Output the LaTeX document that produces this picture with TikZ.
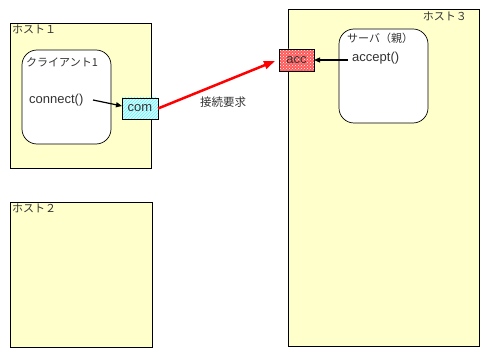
\documentclass[tikz,border=0pt]{standalone}
\usepackage{fontspec}
\setmainfont{Liberation Sans}
\newfontfamily\jp{Noto Sans CJK JP}
\usetikzlibrary{patterns,arrows.meta}
\definecolor{hostfill}{HTML}{FFFFCC}
\definecolor{txt}{HTML}{333333}
\tikzset{
  host/.style={draw=black, line width=0.9pt, fill=hostfill},
  proc/.style={draw=black, line width=0.7pt, fill=white, rounded corners=15pt},
  lbl/.style={font=\jp\fontsize{11}{13}\selectfont, text=txt, inner sep=0pt},
  code/.style={font=\fontsize{13}{15}\selectfont, text=txt, inner sep=0pt},
}
\begin{document}
\begin{tikzpicture}[x=1pt,y=-1pt]
\useasboundingbox (0,0) rectangle (489,358);
% hosts
\draw[host] (10,23) rectangle (151,168);
\draw[host] (10,202) rectangle (152,347);
\draw[host] (288,9) rectangle (479,346);
\node[lbl, anchor=north west] (h1) at (12,25) {ホスト１};
\node[lbl, anchor=north west] (h2) at (12,204) {ホスト２};
\node[lbl, anchor=north east] (h3) at (467,12) {ホスト３};
% processes
\draw[proc] (22,50) rectangle (111,144);
\draw[proc] (339,29) rectangle (428,123);
\node[lbl, anchor=north west] (cl) at (26,57) {クライアント1};
\node[lbl, anchor=north west] (sv) at (347,33) {サーバ（親）};
\node[code, anchor=west] (cn) at (29,100) {connect()};
\node[code, anchor=west] (ac) at (352,58) {accept()};
% sockets
\fill[cyan!12] (122,98) rectangle (158,119);
\fill[pattern=north east lines, pattern color=cyan!70] (122,98) rectangle (158,119);
\draw[line width=0.6pt] (122,98) rectangle (158,119);
\node[code] (com) at (140,108.5) {com};
\coordinate (comR) at (158,108.5);
\coordinate (comL) at (122,106);
\fill[red!65] (279,49) rectangle (314,71);
\fill[pattern=crosshatch dots, pattern color=white] (279,49) rectangle (314,71);
\draw[line width=0.6pt] (279,49) rectangle (314,71);
\node[code] (acc) at (296.5,60) {acc};
\coordinate (accR) at (314,60);
\coordinate (accL) at (275,61);
% arrows
\draw[-{Triangle[length=6pt,width=5pt]}, line width=1.2pt] (93,100) -- (comL);
\draw[-{Triangle[length=6pt,width=5pt]}, line width=1.2pt] (348,60) -- (accR);
\draw[-{Triangle[length=11pt,width=8pt]}, red, line width=2.5pt] (comR) -- (accL);
\node[lbl, font=\jp\fontsize{11.5}{13}\selectfont] (req) at (223,102) {接続要求};
\end{tikzpicture}
\end{document}
